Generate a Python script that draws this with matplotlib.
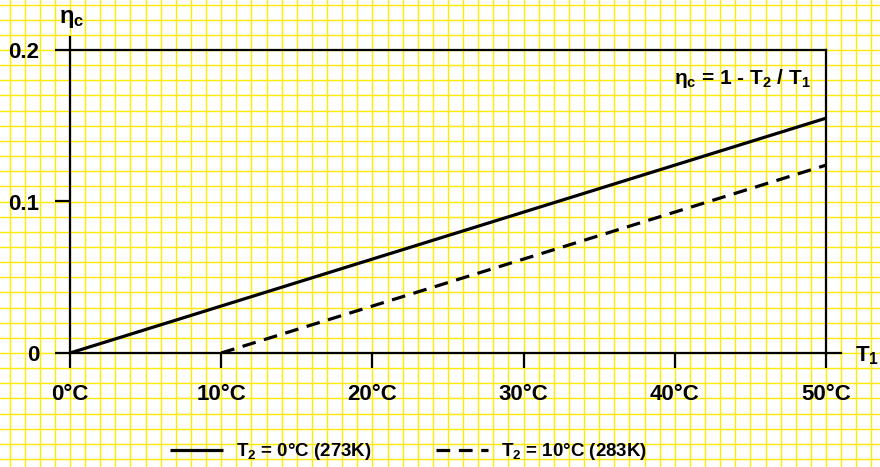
import matplotlib.pyplot as plt
import numpy as np

plt.rcParams['font.family'] = ['Liberation Sans', 'DejaVu Sans']
plt.rcParams['font.weight'] = 'bold'
plt.rcParams['mathtext.fontset'] = 'custom'
plt.rcParams['mathtext.rm'] = 'Liberation Sans:bold'
plt.rcParams['mathtext.it'] = 'Liberation Sans:bold'
plt.rcParams['mathtext.bf'] = 'Liberation Sans:bold'

# values
t1_solid = [0, 50]
eta_solid = [0, 0.155]
t1_dashed = [10, 50]
eta_dashed = [0, 0.124]
x_ticks = [0, 10, 20, 30, 40, 50]
x_labels = ['0°C', '10°C', '20°C', '30°C', '40°C', '50°C']
y_ticks = [0, 0.1, 0.2]
y_labels = ['0', '0.1', '0.2']
legend_labels = ['T$_{2}$ = 0°C (273K)', 'T$_{2}$ = 10°C (283K)']

W, H = 880, 467
fig = plt.figure(figsize=(W / 100, H / 100), dpi=100)

# main axes box in pixels
x0, x1 = 70, 826
y0, y1 = 353, 50
pos = [x0 / W, (H - y0) / H, (x1 - x0) / W, (y0 - y1) / H]

xmin, xmax = 0, 50
ymin, ymax = 0, 0.2
sx = (xmax - xmin) / (x1 - x0)
sy = (ymax - ymin) / (y0 - y1)

# graph paper background
bg = fig.add_axes([0, 0, 1, 1], zorder=0)
bg.set_xlim(xmin - x0 * sx, xmax + (W - x1) * sx)
bg.set_ylim(ymin - (H - y0) * sy, ymax + y1 * sy)
bg.axis('off')
gx = np.arange(-5, 55, 1)
gy = np.arange(-8, 24, 1) * 0.01
bg.vlines(gx, -1, 1, color='#ffea00', lw=1.0)
bg.hlines(gy, -10, 60, color='#ffea00', lw=1.0)

ax = fig.add_axes(pos, zorder=1)
ax.patch.set_alpha(0)
ax.set_xlim(xmin, xmax)
ax.set_ylim(ymin, ymax)

ax.plot(t1_solid, eta_solid, color='black', lw=2.3, solid_capstyle='butt',
        label=legend_labels[0])
ax.plot(t1_dashed, eta_dashed, color='black', lw=2.3, dashes=(4.3, 2.7),
        label=legend_labels[1])

for s in ax.spines.values():
    s.set_linewidth(1.6)
ax.set_xticks(x_ticks)
ax.set_xticklabels(x_labels)
ax.set_yticks(y_ticks)
ax.set_yticklabels(y_labels)
ax.tick_params(direction='out', length=11, width=1.6, labelsize=16)
ax.tick_params(axis='x', pad=11)
ax.tick_params(axis='y', pad=11)

# axis extensions
ax.plot([0, 0], [1, 1 + 13 / (y0 - y1)], color='black', lw=1.6,
        transform=ax.transAxes, clip_on=False)
ax.plot([1, 1 + 15 / (x1 - x0)], [0, 0], color='black', lw=1.6,
        transform=ax.transAxes, clip_on=False)

fig.text(59 / W, 1 - 19 / H, r'$\eta_{c}$', fontsize=17, va='center', ha='left')
fig.text(855 / W, 1 - 356 / H, r'T$_{1}$', fontsize=16, va='center', ha='left')
fig.text(811 / W, 1 - 78 / H, r'$\eta_{c}$ = 1 - T$_{2}$ / T$_{1}$', fontsize=15,
         va='center', ha='right')

fig.legend(loc='center', bbox_to_anchor=(409 / W, 1 - 452 / H), ncol=2,
           frameon=False, fontsize=13.5, handlelength=2.8, handletextpad=0.7,
           columnspacing=3.4)

fig.savefig('out.png', dpi=100)
